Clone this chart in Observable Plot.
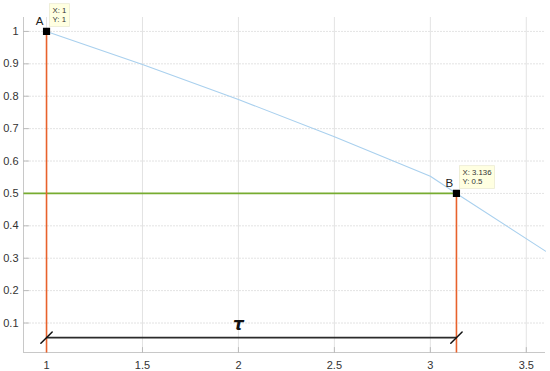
<!DOCTYPE html>
<html>
<head>
<meta charset="utf-8">
<script src="https://cdn.jsdelivr.net/npm/d3@7"></script>
<script src="https://cdn.jsdelivr.net/npm/@observablehq/plot@0.6"></script>
<style>
  html, body { margin: 0; padding: 0; background: #fff; }
  #chart svg { display: block; }
</style>
</head>
<body>
<div id="chart"></div>
<script>
// Curve data
const curveX = [1, 1.5, 2, 2.5, 3, 3.136, 3.6];
const curveY = [1, 0.898, 0.79, 0.675, 0.553, 0.5, 0.322];

// Marked points (datatips)
const pointNames = ["A", "B"];
const pointX = [1, 3.136];
const pointY = [1, 0.5];
const pointTipX = ["X: 1", "X: 3.136"];
const pointTipY = ["Y: 1", "Y: 0.5"];

// tau interval
const tauY = 0.055;
const tauLabel = "τ";
const tauLabelX = 2;
const tauLabelY = 0.095;

// Ticks
const xTicks = [1, 1.5, 2, 2.5, 3, 3.5];
const yTicks = [0.1, 0.2, 0.3, 0.4, 0.5, 0.6, 0.7, 0.8, 0.9, 1];

const curve = curveX.map((x, i) => ({x, y: curveY[i]}));
const pts = pointNames.map((n, i) => ({name: n, x: pointX[i], y: pointY[i], tx: pointTipX[i], ty: pointTipY[i]}));
const xMin = 0.88, xMax = 3.6, yMin = 0.009, yMax = 1.043;

const seg = {
  draw(context, l) {
    context.moveTo(0, 0);
    context.lineTo(0, -l);
  }
};

const plot = Plot.plot({
  width: 550,
  height: 371,
  marginLeft: 23,
  marginRight: 5,
  marginTop: 17,
  marginBottom: 19,
  style: {fontFamily: "Liberation Sans, Arial, sans-serif", fontSize: "11px", color: "#333", background: "#fff"},
  x: {domain: [xMin, xMax], label: null},
  y: {domain: [yMin, yMax], label: null},
  marks: [
    Plot.gridX(xTicks, {stroke: "#dcdcdc", strokeOpacity: 1, strokeWidth: 0.8}),
    Plot.gridY(yTicks, {stroke: "#dcdcdc", strokeOpacity: 1, strokeWidth: 0.8, strokeDasharray: "2,1"}),
    Plot.ruleX([xMin], {stroke: "#c8c8c8"}),
    Plot.ruleY([yMin], {stroke: "#c8c8c8"}),
    // tick marks inside the axes
    Plot.vector(yTicks, {x: xMin, y: d => d, length: 5, rotate: 90, anchor: "start", shape: seg, stroke: "#bbb", strokeWidth: 1}),
    Plot.vector(xTicks, {x: d => d, y: yMin, length: 5, rotate: 0, anchor: "start", shape: seg, stroke: "#bbb", strokeWidth: 1}),
    Plot.axisX({ticks: xTicks, tickSize: 0, tickPadding: 9, fill: "#333", tickFormat: d => String(d), label: null}),
    Plot.axisY({ticks: yTicks, tickSize: 0, tickPadding: 5, fill: "#333", tickFormat: d => String(d), label: null}),
    Plot.line(curve, {x: "x", y: "y", stroke: "#a9d0ee", strokeWidth: 1.1}),
    // green horizontal at B's y
    Plot.link([pts[1]], {x1: xMin, x2: "x", y1: "y", y2: "y", stroke: "#77ac30", strokeWidth: 1.6}),
    // orange verticals
    Plot.link(pts, {x1: "x", x2: "x", y1: yMin, y2: "y", stroke: "#e8622c", strokeWidth: 1.6}),
    // tau interval
    Plot.link([{x1: pointX[0], x2: pointX[1], y: tauY}], {x1: "x1", x2: "x2", y1: "y", y2: "y", stroke: "#2b2b2b", strokeWidth: 1.8}),
    Plot.vector(pointX.map(x => ({x, y: tauY})), {x: "x", y: "y", length: 16, rotate: 45, anchor: "middle", shape: seg, stroke: "#111", strokeWidth: 1.5}),
    Plot.text([{x: tauLabelX, y: tauLabelY, t: tauLabel}], {x: "x", y: "y", text: "t", fontSize: 17, fontStyle: "italic", fontWeight: "bold", fontFamily: "DejaVu Sans, sans-serif", fill: "#111"}),
    // markers
    Plot.dot(pts, {x: "x", y: "y", symbol: "square", r: 3.2, fill: "#000", stroke: "#000"}),
    Plot.text(pts, {x: "x", y: "y", text: "name", dx: -7, dy: -10, fontSize: 11.5, fill: "#222"}),
    // datatips
    Plot.text(pts, {x: "x", y: "y", text: d => d.tx + "\n" + d.ty, dx: 6, dy: -17, textAnchor: "start", lineAnchor: "middle", fontSize: 7.8, lineHeight: 1.25, fill: "#333", className: "datatip"})
  ]
});

document.getElementById("chart").appendChild(plot);

// Add datatip boxes behind the datatip texts
plot.querySelectorAll(".datatip text").forEach(t => {
  const b = t.getBBox();
  const tr = t.getAttribute("transform");
  const r = document.createElementNS("http://www.w3.org/2000/svg", "rect");
  r.setAttribute("x", b.x - 3);
  r.setAttribute("y", b.y - 2);
  r.setAttribute("width", b.width + 6);
  r.setAttribute("height", b.height + 4);
  r.setAttribute("fill", "#ffffe1");
  r.setAttribute("stroke", "#ecebd3");
  r.setAttribute("stroke-width", "0.8");
  if (tr) r.setAttribute("transform", tr);
  t.parentNode.insertBefore(r, t);
});
</script>
</body>
</html>
